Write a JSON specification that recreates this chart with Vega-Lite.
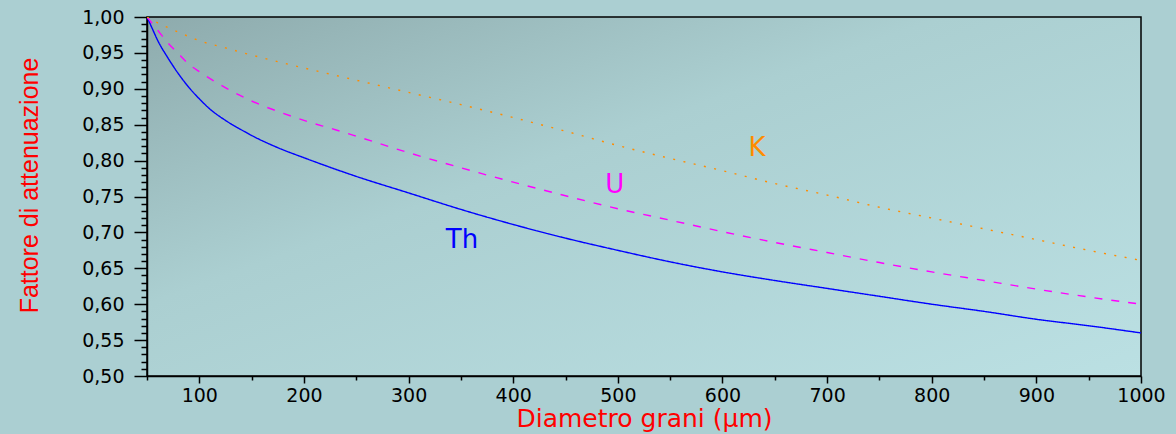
{
  "$schema": "https://vega.github.io/schema/vega-lite/v6.json",
  "width": 994,
  "height": 359,
  "autosize": {"type": "none"},
  "padding": {"left": 147, "top": 17, "right": 35, "bottom": 58},
  "background": "#abcfd2",
  "config": {
    "view": {
      "stroke": "#000000",
      "strokeWidth": 1.5,
      "fill": {
        "gradient": "linear",
        "x1": 0, "y1": 0, "x2": 1, "y2": 1,
        "stops": [
          {"offset": 0, "color": "#8eabad"},
          {"offset": 0.4, "color": "#abcfd1"},
          {"offset": 1, "color": "#bbe0e3"}
        ]
      }
    },
    "axis": {
      "domainColor": "#000000",
      "domainWidth": 1.5,
      "tickColor": "#000000",
      "tickWidth": 1.5,
      "grid": false,
      "labelColor": "#000000",
      "labelFont": "DejaVu Sans",
      "labelFontSize": 19,
      "labelOverlap": false,
      "labelFlush": false,
      "titleColor": "#ff0000",
      "titleFontWeight": "normal"
    }
  },
  "data": {
    "values": [
      {"d": 50, "f": 1.0, "s": "Th"},
      {"d": 55, "f": 0.984, "s": "Th"},
      {"d": 60, "f": 0.968, "s": "Th"},
      {"d": 70, "f": 0.943, "s": "Th"},
      {"d": 80, "f": 0.921, "s": "Th"},
      {"d": 90, "f": 0.902, "s": "Th"},
      {"d": 100, "f": 0.886, "s": "Th"},
      {"d": 110, "f": 0.872, "s": "Th"},
      {"d": 125, "f": 0.856, "s": "Th"},
      {"d": 140, "f": 0.843, "s": "Th"},
      {"d": 150, "f": 0.835, "s": "Th"},
      {"d": 175, "f": 0.818, "s": "Th"},
      {"d": 200, "f": 0.804, "s": "Th"},
      {"d": 250, "f": 0.778, "s": "Th"},
      {"d": 300, "f": 0.755, "s": "Th"},
      {"d": 350, "f": 0.732, "s": "Th"},
      {"d": 400, "f": 0.711, "s": "Th"},
      {"d": 450, "f": 0.692, "s": "Th"},
      {"d": 500, "f": 0.675, "s": "Th"},
      {"d": 550, "f": 0.659, "s": "Th"},
      {"d": 600, "f": 0.645, "s": "Th"},
      {"d": 650, "f": 0.633, "s": "Th"},
      {"d": 700, "f": 0.622, "s": "Th"},
      {"d": 750, "f": 0.611, "s": "Th"},
      {"d": 800, "f": 0.600, "s": "Th"},
      {"d": 850, "f": 0.590, "s": "Th"},
      {"d": 900, "f": 0.579, "s": "Th"},
      {"d": 950, "f": 0.570, "s": "Th"},
      {"d": 1000, "f": 0.560, "s": "Th"},
      {"d": 50, "f": 1.0, "s": "U"},
      {"d": 55, "f": 0.991, "s": "U"},
      {"d": 60, "f": 0.982, "s": "U"},
      {"d": 70, "f": 0.964, "s": "U"},
      {"d": 80, "f": 0.949, "s": "U"},
      {"d": 91, "f": 0.933, "s": "U"},
      {"d": 100, "f": 0.924, "s": "U"},
      {"d": 115, "f": 0.910, "s": "U"},
      {"d": 132, "f": 0.896, "s": "U"},
      {"d": 150, "f": 0.883, "s": "U"},
      {"d": 180, "f": 0.866, "s": "U"},
      {"d": 200, "f": 0.856, "s": "U"},
      {"d": 230, "f": 0.843, "s": "U"},
      {"d": 250, "f": 0.834, "s": "U"},
      {"d": 300, "f": 0.811, "s": "U"},
      {"d": 350, "f": 0.790, "s": "U"},
      {"d": 400, "f": 0.770, "s": "U"},
      {"d": 450, "f": 0.751, "s": "U"},
      {"d": 500, "f": 0.733, "s": "U"},
      {"d": 550, "f": 0.717, "s": "U"},
      {"d": 600, "f": 0.701, "s": "U"},
      {"d": 650, "f": 0.686, "s": "U"},
      {"d": 700, "f": 0.672, "s": "U"},
      {"d": 750, "f": 0.658, "s": "U"},
      {"d": 800, "f": 0.645, "s": "U"},
      {"d": 850, "f": 0.633, "s": "U"},
      {"d": 900, "f": 0.621, "s": "U"},
      {"d": 950, "f": 0.610, "s": "U"},
      {"d": 1000, "f": 0.600, "s": "U"},
      {"d": 50, "f": 1.0, "s": "K"},
      {"d": 60, "f": 0.992, "s": "K"},
      {"d": 80, "f": 0.979, "s": "K"},
      {"d": 100, "f": 0.967, "s": "K"},
      {"d": 125, "f": 0.957, "s": "K"},
      {"d": 150, "f": 0.947, "s": "K"},
      {"d": 180, "f": 0.936, "s": "K"},
      {"d": 200, "f": 0.929, "s": "K"},
      {"d": 250, "f": 0.912, "s": "K"},
      {"d": 300, "f": 0.895, "s": "K"},
      {"d": 350, "f": 0.878, "s": "K"},
      {"d": 400, "f": 0.860, "s": "K"},
      {"d": 450, "f": 0.841, "s": "K"},
      {"d": 500, "f": 0.821, "s": "K"},
      {"d": 550, "f": 0.803, "s": "K"},
      {"d": 600, "f": 0.786, "s": "K"},
      {"d": 650, "f": 0.768, "s": "K"},
      {"d": 700, "f": 0.752, "s": "K"},
      {"d": 750, "f": 0.735, "s": "K"},
      {"d": 800, "f": 0.720, "s": "K"},
      {"d": 850, "f": 0.705, "s": "K"},
      {"d": 900, "f": 0.690, "s": "K"},
      {"d": 950, "f": 0.675, "s": "K"},
      {"d": 1000, "f": 0.661, "s": "K"}
    ]
  },
  "layer": [
    {
      "mark": {"type": "line", "strokeWidth": 1.4, "interpolate": "monotone", "clip": true},
      "encoding": {
        "x": {
          "field": "d", "type": "quantitative",
          "scale": {"domain": [50, 1000], "nice": false, "zero": false},
          "axis": {
            "orient": "bottom",
            "values": [50, 100, 150, 200, 250, 300, 350, 400, 450, 500, 550, 600, 650, 700, 750, 800, 850, 900, 950, 1000],
            "tickCount": 100,
            "tickSize": {"condition": {"test": "datum.value % 100 == 0", "value": 7}, "value": 4},
            "labelPadding": 3,
            "labelExpr": "datum.value % 100 == 0 ? format(datum.value, 'd') : ''",
            "title": "Diametro grani (μm)",
            "titleFont": "DejaVu Sans",
            "titleFontSize": 25,
            "titlePadding": 1
          }
        },
        "y": {
          "field": "f", "type": "quantitative",
          "scale": {"domain": [0.5, 1.0], "nice": false, "zero": false},
          "axis": {
            "orient": "left",
            "values": [0.5, 0.51, 0.52, 0.53, 0.54, 0.55, 0.56, 0.57, 0.58, 0.59, 0.6, 0.61, 0.62, 0.63, 0.64, 0.65, 0.66, 0.67, 0.68, 0.69, 0.7, 0.71, 0.72, 0.73, 0.74, 0.75, 0.76, 0.77, 0.78, 0.79, 0.8, 0.81, 0.82, 0.83, 0.84, 0.85, 0.86, 0.87, 0.88, 0.89, 0.9, 0.91, 0.92, 0.93, 0.94, 0.95, 0.96, 0.97, 0.98, 0.99, 1.0],
            "tickCount": 100,
            "tickSize": {"condition": {"test": "abs(round(datum.value * 20) - datum.value * 20) < 0.001", "value": 13}, "value": 6},
            "labelPadding": 10,
            "labelExpr": "abs(round(datum.value * 20) - datum.value * 20) < 0.001 ? replace(format(datum.value, '.2f'), '.', ',') : ''",
            "title": "Fattore di attenuazione",
            "titleFont": "Liberation Sans",
            "titleFontSize": 25,
            "titlePadding": 39,
            "titleY": 168
          }
        },
        "color": {
          "field": "s", "type": "nominal",
          "scale": {"domain": ["Th", "U", "K"], "range": ["#0000ff", "#ff00ff", "#ff8c00"]},
          "legend": null
        },
        "strokeDash": {
          "field": "s", "type": "nominal",
          "scale": {"domain": ["Th", "U", "K"], "range": [[1, 0], [8, 9], [2, 8.5]]},
          "legend": null
        }
      }
    },
    {
      "data": {
        "values": [
          {"d": 633, "f": 0.8175, "label": "K", "s": "K"},
          {"d": 497, "f": 0.766, "label": "U", "s": "U"},
          {"d": 351, "f": 0.689, "label": "Th", "s": "Th"}
        ]
      },
      "mark": {"type": "text", "font": "DejaVu Sans", "fontSize": 26, "align": "center", "baseline": "middle"},
      "encoding": {
        "x": {"field": "d", "type": "quantitative"},
        "y": {"field": "f", "type": "quantitative"},
        "text": {"field": "label"},
        "color": {"field": "s", "type": "nominal", "legend": null}
      }
    }
  ]
}
